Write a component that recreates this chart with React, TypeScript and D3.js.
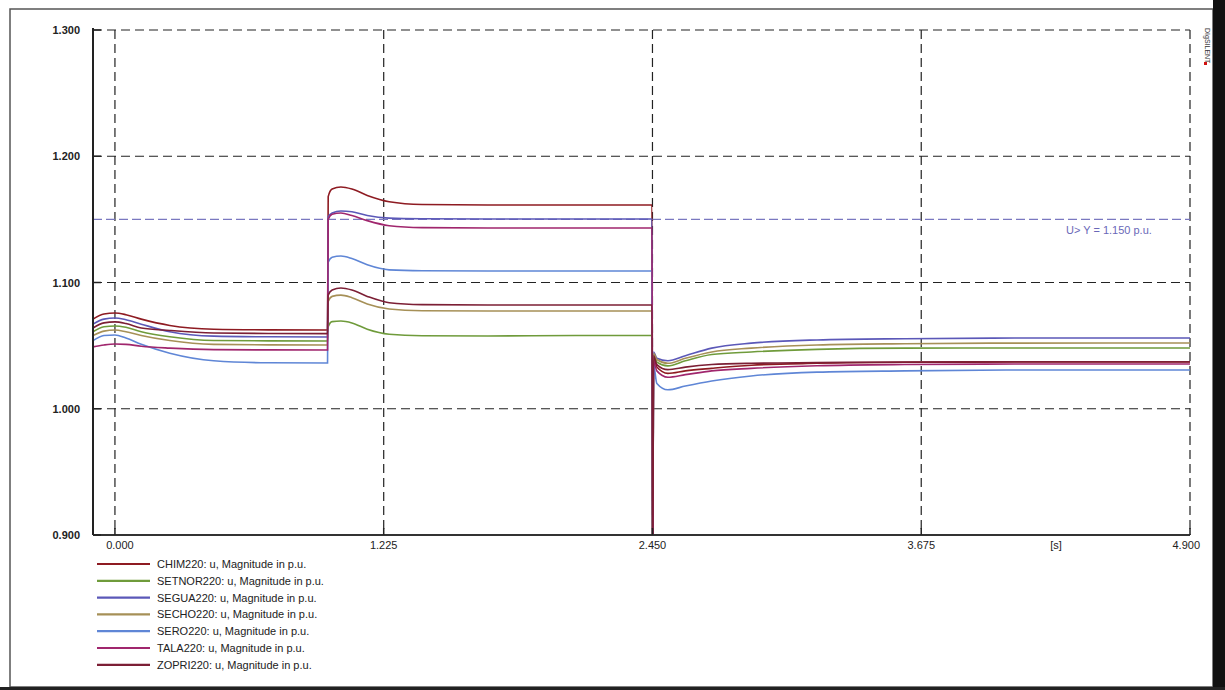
import React from "react";
import * as d3 from "d3";

// time axis (s)
const TIMES = [
  -0.1, -0.05, 0, 0.05, 0.12, 0.25, 0.45, 0.7, 0.969,
  0.972, 0.99, 1.03, 1.08, 1.15, 1.25, 1.4, 1.7, 2.1, 2.448,
  2.451, 2.455, 2.47, 2.52, 2.6, 2.72, 2.9, 3.2, 3.6, 4.1, 4.9,
];

const CHIM220 = [
  1.071, 1.075, 1.0758, 1.0745, 1.071, 1.066, 1.063, 1.0625, 1.0624,
  1.168, 1.174, 1.1756, 1.174, 1.169, 1.164, 1.1618, 1.1614, 1.1614, 1.1614,
  0.85, 1.04, 1.033, 1.028, 1.03, 1.032, 1.0345, 1.036, 1.0368, 1.037, 1.037,
];
const SETNOR220 = [
  1.061, 1.065, 1.0656, 1.0645, 1.061, 1.057, 1.054, 1.0538, 1.0537,
  1.065, 1.069, 1.0695, 1.068, 1.063, 1.059, 1.0578, 1.0576, 1.058, 1.058,
  0.85, 1.043, 1.037, 1.034, 1.038, 1.043, 1.045, 1.047, 1.048, 1.0481, 1.0481,
];
const SEGUA220 = [
  1.067, 1.071, 1.0719, 1.0705, 1.067, 1.061, 1.0575, 1.057, 1.0568,
  1.152, 1.155, 1.1566, 1.156, 1.153, 1.151, 1.1505, 1.1503, 1.1503, 1.1503,
  0.85, 1.045, 1.04, 1.038, 1.042, 1.048, 1.052, 1.0545, 1.0555, 1.056, 1.056,
];
const SECHO220 = [
  1.058, 1.0615, 1.0624, 1.061, 1.058, 1.054, 1.051, 1.0506, 1.0505,
  1.085, 1.089, 1.09, 1.088, 1.083, 1.079, 1.0776, 1.0774, 1.0774, 1.0774,
  0.85, 1.044, 1.039, 1.036, 1.04, 1.045, 1.048, 1.0505, 1.0515, 1.052, 1.0521,
];
const SERO220 = [
  1.054, 1.058, 1.0584, 1.056, 1.051, 1.044, 1.038, 1.0364, 1.0362,
  1.116, 1.12, 1.121, 1.119, 1.114, 1.11, 1.1093, 1.1091, 1.1091, 1.1091,
  0.85, 1.035, 1.02, 1.015, 1.018, 1.022, 1.026, 1.029, 1.03, 1.0307, 1.0307,
];
const TALA220 = [
  1.049, 1.0505, 1.0513, 1.051, 1.0495, 1.048, 1.0468, 1.0466, 1.0465,
  1.15, 1.154, 1.155, 1.153, 1.149, 1.145, 1.1435, 1.1432, 1.1432, 1.1432,
  0.85, 1.038, 1.03, 1.025, 1.027, 1.03, 1.032, 1.034, 1.035, 1.0354, 1.0354,
];
const ZOPRI220 = [
  1.064, 1.068, 1.0688, 1.0675, 1.064, 1.062, 1.06, 1.0596, 1.0595,
  1.09, 1.094, 1.0956, 1.094, 1.089, 1.084, 1.0825, 1.0822, 1.0822, 1.0822,
  0.85, 1.042, 1.035, 1.031, 1.033, 1.035, 1.036, 1.0365, 1.037, 1.0372, 1.0372,
];

const SERIES_NAMES = [
  "CHIM220: u, Magnitude in p.u.",
  "SETNOR220: u, Magnitude in p.u.",
  "SEGUA220: u, Magnitude in p.u.",
  "SECHO220: u, Magnitude in p.u.",
  "SERO220: u, Magnitude in p.u.",
  "TALA220: u, Magnitude in p.u.",
  "ZOPRI220: u, Magnitude in p.u.",
];
const SERIES_VALUES = [CHIM220, SETNOR220, SEGUA220, SECHO220, SERO220, TALA220, ZOPRI220];
const SERIES_COLORS = ["#8e1b22", "#6f9b3b", "#5b58b8", "#a69057", "#5f86d6", "#a0266d", "#7c1f35"];

const Y_TICKS = [1.3, 1.2, 1.1, 1.0, 0.9];
const Y_LABELS = ["1.300", "1.200", "1.100", "1.000", "0.900"];
const X_TICKS = [0, 1.225, 2.45, 3.675, 4.9];
const X_LABELS = ["0.000", "1.225", "2.450", "3.675", "4.900"];
const THRESHOLD = 1.15;
const THRESHOLD_LABEL = "U> Y =  1.150 p.u.";

export default function App() {
  const W = 1225, H = 690;
  const left = 93, right = 1190, top = 30, bottom = 535;
  const x = d3.scaleLinear().domain([-0.1, 4.9]).range([left, right]);
  const y = d3.scaleLinear().domain([0.9, 1.3]).range([bottom, top]);
  const line = d3
    .line<number>()
    .x((_, i) => x(TIMES[i]))
    .y((d) => y(d))
    .curve(d3.curveMonotoneX);
  const font = "'Liberation Sans', Arial, sans-serif";

  return (
    <svg
      width={W}
      height={H}
      style={{ position: "absolute", left: 0, top: 0, background: "#fff" }}
      fontFamily={font}
    >
      <defs>
        <clipPath id="plotclip">
          <rect x={left} y={top} width={right - left} height={bottom - top} />
        </clipPath>
      </defs>
      <rect x={0} y={0} width={W} height={H} fill="#fff" />
      {/* outer frame */}
      <rect x={10} y={9} width={1203} height={678} fill="none" stroke="#555" strokeWidth={1.5} />
      <rect x={1213} y={0} width={12} height={H} fill="#111" />
      <rect x={0} y={687} width={W} height={3} fill="#222" />

      {/* grid */}
      {Y_TICKS.slice(0, 4).map((t) => (
        <line key={"gy" + t} x1={left} x2={right} y1={y(t)} y2={y(t)} stroke="#222" strokeWidth={1.2} strokeDasharray="9,5" />
      ))}
      {X_TICKS.map((t) => (
        <line key={"gx" + t} x1={x(t)} x2={x(t)} y1={top} y2={bottom} stroke="#222" strokeWidth={1.2} strokeDasharray="9,5" />
      ))}

      {/* threshold */}
      <line x1={left} x2={right} y1={y(THRESHOLD)} y2={y(THRESHOLD)} stroke="#7a78c0" strokeWidth={1.2} strokeDasharray="9,4" />
      <text x={1066} y={y(THRESHOLD) + 15} fontSize={11} fill="#6a68b8">{THRESHOLD_LABEL}</text>

      {/* curves */}
      <g clipPath="url(#plotclip)">
        {SERIES_VALUES.map((vals, i) => (
          <path key={i} d={line(vals) || ""} fill="none" stroke={SERIES_COLORS[i]} strokeWidth={1.6} />
        ))}
      </g>

      {/* axes */}
      <line x1={left} x2={left} y1={top - 2} y2={bottom} stroke="#222" strokeWidth={2} />
      <line x1={left} x2={right} y1={bottom} y2={bottom} stroke="#333" strokeWidth={2} />
      {Y_TICKS.map((t) => (
        <line key={"ty" + t} x1={left} x2={left + 8} y1={y(t)} y2={y(t)} stroke="#222" strokeWidth={1.5} />
      ))}
      {X_TICKS.map((t) => (
        <line key={"tx" + t} x1={x(t)} x2={x(t)} y1={bottom} y2={bottom - 7} stroke="#222" strokeWidth={1.5} />
      ))}
      {Y_TICKS.map((t, i) => (
        <text key={"ly" + t} x={80} y={y(t) + 4} fontSize={11} textAnchor="end" fill="#222" fontWeight="bold">
          {Y_LABELS[i]}
        </text>
      ))}
      {X_TICKS.map((t, i) => (
        <text
          key={"lx" + t}
          x={i === X_TICKS.length - 1 ? right + 10 : x(t) + (i === 0 ? 5 : 0)}
          y={bottom + 14}
          fontSize={11}
          textAnchor={i === X_TICKS.length - 1 ? "end" : "middle"}
          fill="#222"
        >
          {X_LABELS[i]}
        </text>
      ))}
      <text x={1056} y={bottom + 14} fontSize={11} textAnchor="middle" fill="#222">[s]</text>

      {/* DIgSILENT mark */}
      <text x={1205} y={28} fontSize={7} fill="#333" transform="rotate(90 1205 28)">DIgSILENT</text>
      <rect x={1204} y={62} width={3} height={3} fill="#d01010" />

      {/* legend */}
      {SERIES_NAMES.map((name, i) => {
        const ly = 564 + i * 16.8;
        return (
          <g key={name}>
            <line x1={97} x2={150} y1={ly} y2={ly} stroke={SERIES_COLORS[i]} strokeWidth={2.2} />
            <text x={157} y={ly + 4} fontSize={11} fill="#222">{name}</text>
          </g>
        );
      })}
    </svg>
  );
}
